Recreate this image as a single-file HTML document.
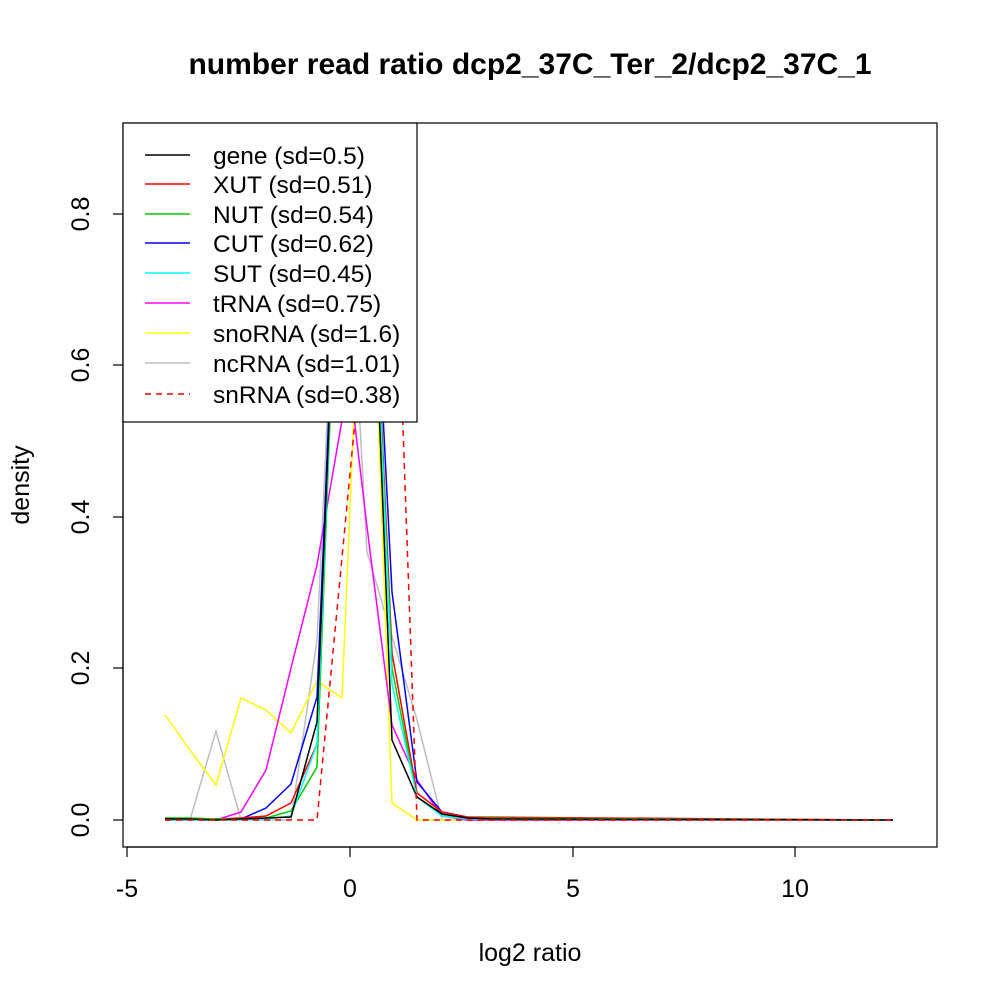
<!DOCTYPE html>
<html><head><meta charset="utf-8"><style>
body{margin:0;background:#fff}
svg{display:block}
text{font-family:"Liberation Sans",sans-serif;fill:#000}
</style></head><body>
<svg width="1000" height="1000" viewBox="0 0 1000 1000" xmlns="http://www.w3.org/2000/svg">
<defs><clipPath id="c"><rect x="123" y="123" width="814" height="724"/></clipPath></defs>
<rect width="1000" height="1000" fill="#fff"/>
<text x="530" y="74" font-size="30" font-weight="bold" text-anchor="middle">number read ratio dcp2_37C_Ter_2/dcp2_37C_1</text>
<g clip-path="url(#c)" fill="none" stroke-width="1.5">
<polyline stroke="#bebebe" points="165,820 190,820 216,731 241,820 266,820 291,820 317,640 342,100 367,552 392,636 417,720 442,820 467,820 893,820"/>
<polyline stroke="#ffff00" points="165,715 190,750 216,785 241,698 266,710 291,733 317,681 342,698 367,100 392,803 417,820 893,820"/>
<polyline stroke="#ff00ff" points="165,820 190,820 216,820 241,812 266,770 291,668 317,565 342,420 352,400 367,527 392,725 417,780 442,816 467,820 893,820"/>
<polyline stroke="#0000ff" points="165,819 190,819 216,819 241,819 266,808 291,784 317,697 342,100 367,100 392,592 417,782 442,812 467,817 492,819 893,820"/>
<polyline stroke="#ff0000" points="165,818 190,819 216,819 241,818 266,816 291,803 317,744 342,100 367,100 392,653 417,793 442,812 467,817 893,820"/>
<polyline stroke="#00cd00" points="165,818 190,818 216,819 241,819 266,818 291,811 317,767 342,100 367,100 392,668 417,797 442,814 467,818 893,820"/>
<polyline stroke="#00ffff" points="165,820 190,820 216,820 241,820 266,819 291,816 317,744 342,100 367,100 392,684 417,797 442,816 467,819 893,820"/>
<polyline stroke="#000000" points="165,819 190,819 216,820 241,819 266,818 291,817 317,722 342,100 367,100 392,740 417,797 442,814 467,818 492,819 893,820"/>
<polyline stroke="#ff0000" stroke-dasharray="6,5" points="165,820 317,820 357,400 402,400 417,820 893,820"/>
</g>
<rect x="123" y="123" width="814" height="724" fill="none" stroke="#000" stroke-width="1.2"/>
<g stroke="#000" stroke-width="1.2">
<line x1="127" y1="847" x2="795" y2="847"/>
<line x1="127" y1="847" x2="127" y2="857"/><line x1="350" y1="847" x2="350" y2="857"/><line x1="573" y1="847" x2="573" y2="857"/><line x1="795" y1="847" x2="795" y2="857"/>
<line x1="123" y1="820" x2="123" y2="214"/>
<line x1="113" y1="820" x2="123" y2="820"/><line x1="113" y1="668" x2="123" y2="668"/><line x1="113" y1="517" x2="123" y2="517"/><line x1="113" y1="365" x2="123" y2="365"/><line x1="113" y1="214" x2="123" y2="214"/>
</g>
<g font-size="25" text-anchor="middle">
<text x="127" y="897">-5</text><text x="350" y="897">0</text><text x="573" y="897">5</text><text x="795" y="897">10</text>
<text x="530" y="961">log2 ratio</text>
<text transform="translate(89,820) rotate(-90)">0.0</text>
<text transform="translate(89,668) rotate(-90)">0.2</text>
<text transform="translate(89,517) rotate(-90)">0.4</text>
<text transform="translate(89,365) rotate(-90)">0.6</text>
<text transform="translate(89,214) rotate(-90)">0.8</text>
<text transform="translate(29,485) rotate(-90)">density</text>
</g>
<rect x="123" y="123" width="294" height="299" fill="#fff" stroke="#000" stroke-width="1.2"/>
<g stroke-width="1.5">
<line x1="145" y1="155" x2="190" y2="155" stroke="#000"/>
<line x1="145" y1="184" x2="190" y2="184" stroke="#f00"/>
<line x1="145" y1="214" x2="190" y2="214" stroke="#00cd00"/>
<line x1="145" y1="243" x2="190" y2="243" stroke="#00f"/>
<line x1="145" y1="273" x2="190" y2="273" stroke="#0ff"/>
<line x1="145" y1="303" x2="190" y2="303" stroke="#f0f"/>
<line x1="145" y1="333" x2="190" y2="333" stroke="#ff0"/>
<line x1="145" y1="363" x2="190" y2="363" stroke="#bebebe"/>
<line x1="145" y1="394" x2="190" y2="394" stroke="#f00" stroke-dasharray="6,5"/>
</g>
<g font-size="24.5">
<text x="213" y="164">gene (sd=0.5)</text>
<text x="213" y="193">XUT (sd=0.51)</text>
<text x="213" y="223">NUT (sd=0.54)</text>
<text x="213" y="252">CUT (sd=0.62)</text>
<text x="213" y="282">SUT (sd=0.45)</text>
<text x="213" y="312">tRNA (sd=0.75)</text>
<text x="213" y="342">snoRNA (sd=1.6)</text>
<text x="213" y="372">ncRNA (sd=1.01)</text>
<text x="213" y="403">snRNA (sd=0.38)</text>
</g>
</svg>
</body></html>
